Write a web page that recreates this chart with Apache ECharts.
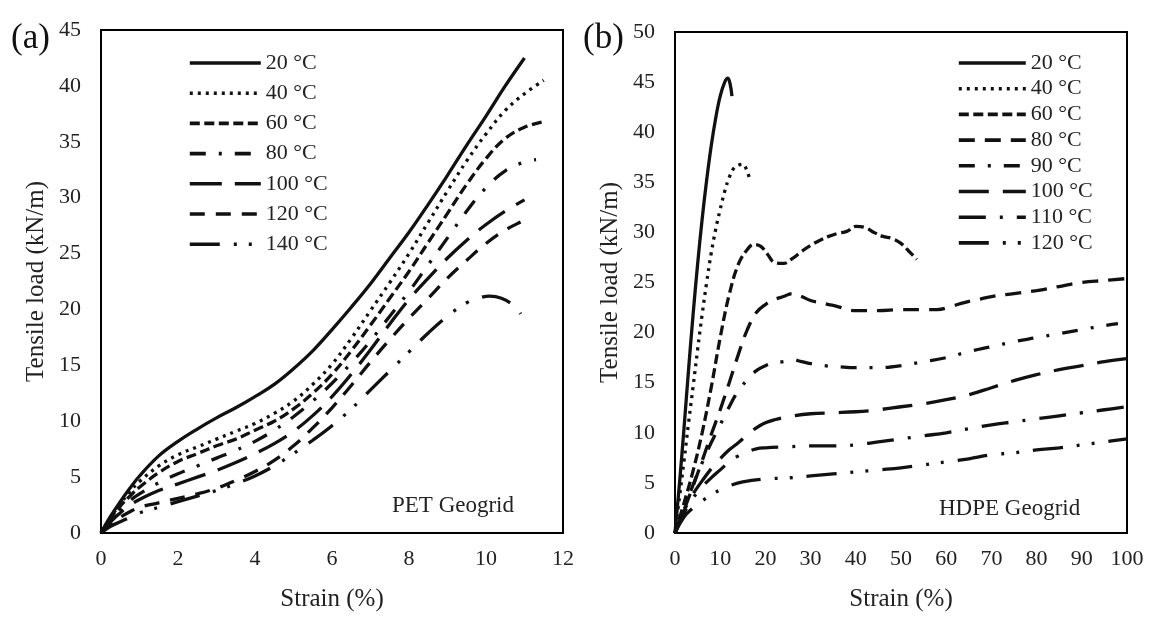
<!DOCTYPE html>
<html>
<head>
<meta charset="utf-8">
<script src="https://cdn.jsdelivr.net/npm/echarts@6/dist/echarts.min.js"></script>
<style>html,body{margin:0;padding:0;background:#fff}#c{width:1153px;height:617px}</style>
</head>
<body>
<div id="c"></div>
<script>
// ---------- data (a) PET geogrid: [strain %, load kN/m] ----------
const petNames = ['20 °C','40 °C','60 °C','80 °C','100 °C','120 °C','140 °C'];
const pet20 = [[0,0],[0.25,1.5],[0.5,2.8],[0.75,4.0],[1,5.1],[1.5,6.9],[2,8.2],[2.5,9.3],[3,10.3],[3.5,11.2],[4,12.2],[4.5,13.3],[5,14.7],[5.5,16.3],[6,18.2],[6.5,20.2],[7,22.3],[7.5,24.6],[8,26.9],[8.5,29.4],[9,32.0],[9.5,34.7],[10,37.3],[10.5,40.0],[11,42.5]];
const pet40 = [[0,0],[0.25,1.4],[0.5,2.6],[0.75,3.7],[1,4.6],[1.5,6.0],[2,7.0],[2.5,7.7],[3,8.4],[3.5,9.1],[4,9.8],[4.5,10.7],[5,11.8],[5.5,13.3],[6,15.1],[6.5,17.4],[7,19.9],[7.5,22.4],[8,25.0],[8.5,27.8],[9,30.6],[9.5,33.3],[10,35.7],[10.5,37.8],[11,39.3],[11.5,40.5]];
const pet60 = [[0,0],[0.25,1.3],[0.5,2.4],[0.75,3.3],[1,4.1],[1.5,5.4],[2,6.4],[2.5,7.1],[3,7.8],[3.5,8.4],[4,9.2],[4.5,10.0],[5,11.1],[5.5,12.5],[6,14.2],[6.5,16.3],[7,18.6],[7.5,21.0],[8,23.4],[8.5,26.0],[9,28.6],[9.5,31.2],[10,33.5],[10.5,35.3],[11,36.3],[11.5,36.8]];
const pet80 = [[0,0],[0.25,1.2],[0.5,2.1],[0.75,2.9],[1,3.5],[1.5,4.5],[2,5.3],[2.5,6.0],[3,6.7],[3.5,7.4],[4,8.2],[4.5,9.2],[5,10.4],[5.5,11.8],[6,13.4],[6.5,15.2],[7,17.2],[7.5,19.4],[8,21.6],[8.5,24.0],[9,26.4],[9.5,28.8],[10,30.9],[10.5,32.4],[11,33.2],[11.3,33.4]];
const pet100 = [[0,0],[0.25,1.0],[0.5,1.8],[0.75,2.5],[1,3.0],[1.5,3.8],[2,4.4],[2.5,5.0],[3,5.6],[3.5,6.3],[4,7.1],[4.5,8.0],[5,9.1],[5.5,10.5],[6,12.2],[6.5,14.2],[7,16.4],[7.5,18.7],[8,20.9],[8.5,22.8],[9,24.6],[9.5,26.2],[10,27.6],[10.5,28.8],[11,29.8]];
const pet120 = [[0,0],[0.25,0.8],[0.5,1.4],[0.75,1.9],[1,2.3],[1.5,2.7],[2,3.1],[2.5,3.5],[3,4.0],[3.5,4.7],[4,5.5],[4.5,6.5],[5,7.8],[5.5,9.4],[6,11.2],[6.5,13.2],[7,15.3],[7.5,17.3],[8,19.2],[8.5,21.0],[9,22.8],[9.5,24.4],[10,25.9],[10.5,27.1],[11,28.0],[11.1,28.2]];
const pet140 = [[0,0],[0.25,0.6],[0.5,1.0],[0.75,1.4],[1,1.8],[1.5,2.3],[2,2.8],[2.5,3.3],[3,3.8],[3.5,4.4],[4,5.1],[4.5,6.0],[5,7.1],[5.5,8.3],[6,9.6],[6.5,11.1],[7,12.8],[7.5,14.5],[8,16.2],[8.5,17.9],[9,19.4],[9.5,20.6],[9.8,21.0],[10.1,21.2],[10.4,21.0],[10.7,20.4],[10.9,19.6]];

// ---------- data (b) HDPE geogrid ----------
const hdpeNames = ['20 °C','40 °C','60 °C','80 °C','90 °C','100 °C','110 °C','120 °C'];
const hd20 = [[0,0],[1,5.0],[2,10.5],[3,16.3],[4,21.8],[5,26.8],[6,31.3],[7,35.2],[8,38.6],[9,41.4],[10,43.6],[11,45.0],[11.7,45.4],[12.2,44.8],[12.6,43.6]];
const hd40 = [[0,0],[1,3.6],[2,7.2],[3,11.0],[4,14.6],[5,18.3],[6,21.8],[7,25.0],[8,27.9],[9,30.3],[10,32.3],[11,34.1],[12,35.5],[13,36.4],[14,36.7],[15,36.8],[15.8,36.3],[16.6,35.2]];
const hd60 = [[0,0],[2,3.0],[4,6.2],[6,10.0],[8,14.5],[10,19.5],[12,23.8],[14,26.8],[16,28.3],[17.5,28.8],[19,28.6],[20.5,27.8],[22,27.0],[24,26.9],[26,27.4],[28,28.1],[30,28.7],[32,29.2],[34,29.6],[36,29.9],[38,30.1],[40,30.6],[42,30.5],[44,30.0],[46,29.6],[48,29.4],[50,28.9],[52,28.0],[53.5,27.3]];
const hd80 = [[0,0],[2,2.3],[4,4.7],[6,7.2],[8,9.8],[10,12.3],[12,15.0],[14,17.8],[16,20.3],[18,22.0],[20,22.8],[22,23.3],[24,23.6],[26,23.9],[28,23.6],[30,23.2],[32,23.0],[34,22.8],[36,22.6],[38,22.3],[40,22.2],[45,22.2],[50,22.3],[55,22.3],[58,22.3],[61,22.6],[64,23.0],[67,23.3],[70,23.6],[75,23.9],[80,24.2],[85,24.6],[90,25.0],[95,25.2],[100,25.4]];
const hd90 = [[0,0],[2,2.4],[4,4.8],[6,7.0],[8,9.0],[10,10.8],[12,12.6],[14,14.2],[16,15.3],[18,16.2],[20,16.7],[22,17.0],[24,17.1],[26,17.3],[28,17.1],[30,16.9],[33,16.7],[36,16.6],[40,16.5],[45,16.5],[50,16.7],[55,17.1],[60,17.5],[65,18.1],[70,18.6],[75,19.1],[80,19.5],[85,19.9],[90,20.3],[95,20.7],[98,20.9]];
const hd100 = [[0,0],[2,2.2],[4,3.9],[6,5.2],[8,6.4],[10,7.4],[12,8.3],[14,9.0],[16,9.8],[18,10.5],[20,11.0],[22,11.3],[25,11.6],[30,11.9],[35,12.0],[40,12.1],[45,12.3],[50,12.6],[55,12.9],[60,13.3],[65,13.8],[70,14.5],[75,15.2],[80,15.8],[85,16.3],[90,16.7],[95,17.1],[100,17.4]];
const hd110 = [[0,0],[2,2.0],[4,3.5],[6,4.6],[8,5.5],[10,6.3],[12,7.1],[14,7.7],[16,8.1],[18,8.4],[20,8.5],[25,8.6],[30,8.7],[35,8.7],[40,8.8],[45,9.1],[50,9.4],[55,9.7],[60,10.0],[65,10.4],[70,10.8],[75,11.1],[80,11.4],[85,11.7],[90,12.0],[95,12.3],[100,12.6]];
const hd120 = [[0,0],[2,1.6],[4,2.5],[6,3.2],[8,3.8],[10,4.3],[12,4.7],[15,5.1],[20,5.4],[25,5.5],[30,5.7],[35,5.9],[40,6.1],[45,6.3],[50,6.5],[55,6.8],[60,7.1],[65,7.4],[70,7.8],[75,8.0],[80,8.3],[85,8.5],[90,8.8],[95,9.1],[100,9.4]];

// ---------- axis ticks ----------
const petX = {min:0, max:12, interval:2};
const petY = {min:0, max:45, interval:5};
const hdX = {min:0, max:100, interval:10};
const hdY = {min:0, max:50, interval:5};

// ---------- styles ----------
const FONT = 'Liberation Serif';
const INK = '#111';
const petData = [pet20, pet40, pet60, pet80, pet100, pet120, pet140];
const petDash = ['solid', [3,5], [10,4.5], [16,13,3,13], [32,13], [15,11], [30,14,3,12,3,14]];
const hdData = [hd20, hd40, hd60, hd80, hd90, hd100, hd110, hd120];
const hdDash = ['solid', [3,5], [10,4.5], [16,10], [16,13,3,13], [30,14], [27,14,3,14], [30,14,3,12,3,14]];

const series = [];
petData.forEach((d, i) => series.push({
  name: 'PET|' + petNames[i], type: 'line', xAxisIndex: 0, yAxisIndex: 0,
  data: d, smooth: 0.4, symbol: 'none', animation: false,
  itemStyle: {color: INK},
  lineStyle: {color: INK, width: 3.3, type: petDash[i], cap: 'butt'}
}));
hdData.forEach((d, i) => series.push({
  name: 'HDPE|' + hdpeNames[i], type: 'line', xAxisIndex: 1, yAxisIndex: 1,
  data: d, smooth: 0.4, symbol: 'none', animation: false,
  itemStyle: {color: INK},
  lineStyle: {color: INK, width: 3.3, type: hdDash[i], cap: 'butt'}
}));

const tickLabel = {fontFamily: FONT, fontSize: 22, color: '#222'};
const nameStyle = {fontFamily: FONT, fontSize: 25, color: '#222'};
function xAx(gi, t) {
  return {type: 'value', gridIndex: gi, min: t.min, max: t.max, interval: t.interval,
    name: 'Strain (%)', nameLocation: 'middle', nameGap: 54, nameTextStyle: nameStyle,
    axisLine: {show: false}, axisTick: {show: false}, splitLine: {show: false},
    axisLabel: Object.assign({margin: 15}, tickLabel)};
}
function yAx(gi, t) {
  return {type: 'value', gridIndex: gi, min: t.min, max: t.max, interval: t.interval,
    name: 'Tensile load (kN/m)', nameLocation: 'middle', nameGap: 52, nameTextStyle: nameStyle,
    axisLine: {show: false}, axisTick: {show: false}, splitLine: {show: false},
    axisLabel: Object.assign({margin: 20}, tickLabel)};
}
const legendText = {fontFamily: FONT, fontSize: 22, color: '#222', lineHeight: 22};
const fmt = n => n.split('|')[1];
const legendCommon = {orient: 'vertical', itemHeight: 14, formatter: fmt, textStyle: legendText,
  selectedMode: false, itemStyle: {opacity: 0}, lineStyle: {width: 3.6}};

const option = {
  backgroundColor: '#fff',
  animation: false,
  title: [
    {text: '(a)', left: 6, top: 16, textStyle: {fontFamily: FONT, fontSize: 35, fontWeight: 'normal', color: '#111'}},
    {text: '(b)', left: 578, top: 16, textStyle: {fontFamily: FONT, fontSize: 35, fontWeight: 'normal', color: '#111'}}
  ],
  grid: [
    {left: 101, right: 590, top: 30, bottom: 81, show: true, borderColor: '#000', borderWidth: 2},
    {left: 675, right: 26, top: 32, bottom: 80, show: true, borderColor: '#000', borderWidth: 2}
  ],
  xAxis: [xAx(0, petX), xAx(1, hdX)],
  yAxis: [yAx(0, petY), yAx(1, hdY)],
  legend: [
    Object.assign({left: 183, top: 47, itemWidth: 71, itemGap: 8.2,
      data: petNames.map(n => 'PET|' + n)}, legendCommon),
    Object.assign({left: 952, top: 47, itemWidth: 67, itemGap: 3.7,
      data: hdpeNames.map(n => 'HDPE|' + n)}, legendCommon)
  ],
  graphic: [
    {type: 'text', left: 392, top: 494, style: {text: 'PET Geogrid', font: '23px "Liberation Serif"', fill: '#222'}},
    {type: 'text', left: 939, top: 497, style: {text: 'HDPE Geogrid', font: '23px "Liberation Serif"', fill: '#222'}}
  ],
  series: series
};
const chart = echarts.init(document.getElementById('c'), null, {renderer: 'canvas'});
chart.setOption(option);
</script>
</body>
</html>
